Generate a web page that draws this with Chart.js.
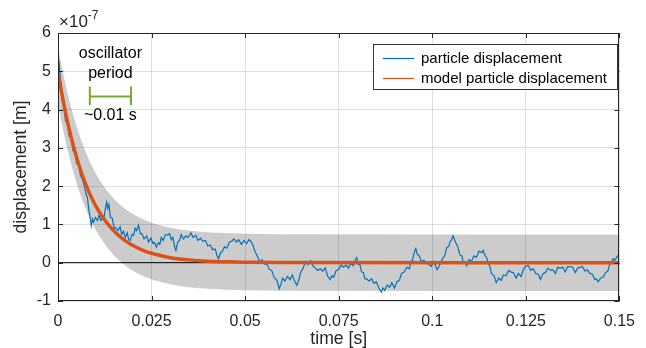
<!DOCTYPE html>
<html><head><meta charset="utf-8">
<script src="https://cdn.jsdelivr.net/npm/chart.js@4.4.1/dist/chart.umd.min.js"></script>
<style>html,body{margin:0;padding:0;background:#fff}</style>
</head><body>
<canvas id="c" width="646" height="348"></canvas>
<script>
// ---- data (displacement in units of 1e-7 m, time in s) ----
const particleTime = [0.0000,0.0003,0.0006,0.0010,0.0015,0.0020,0.0025,0.0030,0.0035,0.0040,0.0045,0.0050,0.0055,0.0060,0.0065,0.0070,0.0075,0.0079,0.0082,0.0085,0.0089,0.0092,0.0095,0.0100,0.0105,0.0110,0.0114,0.0118,0.0122,0.0126,0.0130,0.0133,0.0136,0.0140,0.0145,0.0150,0.0154,0.0160,0.0166,0.0170,0.0175,0.0180,0.0185,0.0189,0.0193,0.0198,0.0202,0.0206,0.0210,0.0215,0.0220,0.0224,0.0230,0.0237,0.0242,0.0248,0.0254,0.0258,0.0263,0.0268,0.0272,0.0276,0.0281,0.0287,0.0293,0.0298,0.0303,0.0307,0.0311,0.0315,0.0320,0.0325,0.0329,0.0335,0.0342,0.0348,0.0355,0.0361,0.0368,0.0374,0.0381,0.0387,0.0394,0.0400,0.0407,0.0413,0.0420,0.0425,0.0429,0.0434,0.0438,0.0445,0.0451,0.0458,0.0464,0.0470,0.0477,0.0483,0.0490,0.0497,0.0504,0.0510,0.0515,0.0520,0.0526,0.0532,0.0539,0.0545,0.0552,0.0558,0.0565,0.0571,0.0578,0.0585,0.0591,0.0596,0.0600,0.0606,0.0613,0.0620,0.0626,0.0632,0.0638,0.0643,0.0648,0.0655,0.0661,0.0668,0.0675,0.0681,0.0688,0.0694,0.0701,0.0707,0.0714,0.0720,0.0727,0.0732,0.0737,0.0743,0.0750,0.0756,0.0763,0.0770,0.0776,0.0782,0.0789,0.0794,0.0798,0.0802,0.0807,0.0811,0.0816,0.0820,0.0825,0.0831,0.0838,0.0844,0.0851,0.0857,0.0864,0.0868,0.0873,0.0880,0.0886,0.0892,0.0899,0.0905,0.0912,0.0918,0.0925,0.0932,0.0939,0.0943,0.0947,0.0952,0.0956,0.0960,0.0965,0.0971,0.0978,0.0985,0.0991,0.0997,0.1004,0.1008,0.1013,0.1019,0.1026,0.1033,0.1039,0.1044,0.1048,0.1052,0.1055,0.1058,0.1061,0.1068,0.1074,0.1079,0.1083,0.1088,0.1092,0.1098,0.1105,0.1111,0.1118,0.1125,0.1132,0.1136,0.1140,0.1145,0.1149,0.1154,0.1158,0.1165,0.1171,0.1178,0.1184,0.1190,0.1197,0.1204,0.1210,0.1217,0.1224,0.1230,0.1237,0.1244,0.1250,0.1257,0.1263,0.1270,0.1276,0.1283,0.1289,0.1296,0.1302,0.1309,0.1316,0.1322,0.1329,0.1335,0.1342,0.1349,0.1355,0.1362,0.1368,0.1375,0.1382,0.1388,0.1395,0.1401,0.1408,0.1414,0.1421,0.1428,0.1434,0.1439,0.1443,0.1450,0.1456,0.1463,0.1469,0.1474,0.1478,0.1483,0.1487,0.1494,0.1500];
const particleDisp = [5.10,5.22,4.85,4.30,4.15,3.70,3.70,3.30,3.28,2.92,2.90,2.58,2.56,2.28,2.18,2.02,1.80,1.68,1.40,1.24,0.97,1.14,1.06,1.18,1.10,1.24,1.10,1.16,1.12,1.38,1.58,1.42,1.52,1.18,1.16,0.90,0.92,0.84,0.94,0.74,0.82,0.66,0.78,0.60,0.58,0.74,0.72,0.90,0.84,0.98,0.76,0.76,0.62,0.70,0.54,0.64,0.50,0.53,0.41,0.52,0.48,0.66,0.58,0.74,0.72,0.76,0.60,0.66,0.44,0.32,0.54,0.58,0.74,0.62,0.70,0.66,0.78,0.66,0.72,0.58,0.64,0.56,0.58,0.44,0.46,0.34,0.36,0.18,0.10,0.26,0.28,0.42,0.38,0.54,0.56,0.62,0.54,0.60,0.48,0.58,0.50,0.60,0.56,0.48,0.30,0.18,0.02,0.08,-0.04,-0.04,-0.18,-0.20,-0.40,-0.46,-0.68,-0.56,-0.40,-0.48,-0.36,-0.44,-0.32,-0.48,-0.59,-0.46,-0.26,-0.14,0.02,-0.05,0.05,-0.08,-0.14,-0.20,-0.16,-0.22,-0.14,-0.34,-0.44,-0.34,-0.38,-0.20,-0.18,-0.06,-0.12,-0.06,-0.14,-0.02,-0.08,0.06,0.13,-0.04,-0.06,-0.24,-0.26,-0.42,-0.42,-0.48,-0.42,-0.54,-0.50,-0.66,-0.77,-0.66,-0.72,-0.58,-0.64,-0.52,-0.66,-0.50,-0.46,-0.28,-0.24,-0.12,-0.16,0.04,0.06,0.28,0.37,0.22,0.18,0.04,0.06,-0.02,-0.04,-0.10,0.04,-0.06,-0.18,-0.08,0.08,0.18,0.40,0.42,0.56,0.60,0.70,0.64,0.56,0.42,0.20,0.18,0.02,0.02,-0.08,0.08,0.04,0.18,0.14,0.30,0.26,0.32,0.20,0.14,0.00,-0.10,-0.28,-0.34,-0.52,-0.40,-0.46,-0.32,-0.34,-0.20,-0.24,-0.26,-0.40,-0.28,-0.36,-0.16,-0.08,-0.08,-0.20,-0.16,-0.28,-0.30,-0.44,-0.28,-0.26,-0.14,-0.20,-0.18,-0.28,-0.12,-0.14,-0.12,-0.24,-0.10,-0.10,-0.12,-0.26,-0.14,-0.12,-0.10,-0.22,-0.18,-0.28,-0.30,-0.44,-0.42,-0.50,-0.40,-0.38,-0.26,-0.22,-0.04,0.00,0.10,0.06,0.16,0.23];
const modelTime = [0,0.001,0.002,0.003,0.004,0.005,0.006,0.007,0.008,0.009,0.010,0.012,0.014,0.016,0.018,0.020,0.023,0.026,0.030,0.035,0.040,0.045,0.050,0.060,0.150];
const modelDisp = [5.00,4.43,3.93,3.48,3.09,2.74,2.43,2.15,1.91,1.69,1.50,1.18,0.93,0.73,0.57,0.45,0.31,0.22,0.13,0.074,0.040,0.022,0.012,0.004,0];
const bandUpper = [5.64,5.125,4.663,4.251,3.882,3.551,3.256,2.991,2.754,2.543,2.353,2.032,1.774,1.568,1.403,1.271,1.121,1.013,0.915,0.840,0.798,0.773,0.759,0.746,0.740];
const bandLower = [4.16,3.645,3.183,2.771,2.402,2.071,1.776,1.511,1.274,1.063,0.873,0.552,0.294,0.088,-0.077,-0.209,-0.359,-0.467,-0.565,-0.640,-0.682,-0.707,-0.721,-0.734,-0.740];
const periodStart = 0.0085, periodEnd = 0.0195, periodLevel = 4.34, periodCapTop = 4.60, periodCapBottom = 4.11;
const zeroLineTime = [0, 0.15];
const zeroLineValue = [0, 0];
const xTicks = [0,0.025,0.05,0.075,0.1,0.125,0.15];
const xTickLabels = ['0','0.025','0.05','0.075','0.1','0.125','0.15'];
const yTicks = [-1,0,1,2,3,4,5,6];
const yTickLabels = ['-1','0','1','2','3','4','5','6'];
const seriesNames = ['particle displacement','model particle displacement'];
const annotationText = ['oscillator','period','~0.01 s'];
const exponentText = ['\u00d710','-7'];

const pts = (xs, ys) => xs.map((x, i) => ({x, y: ys[i]}));
const AX = '#262626';
const FONT = '"Liberation Sans", Arial, Helvetica, sans-serif';

const decor = {
  id: 'decor',
  afterDraw(chart) {
    const {ctx, chartArea: a, scales: {x, y}} = chart;
    ctx.save();
    ctx.strokeStyle = AX; ctx.lineWidth = 1;
    ctx.strokeRect(Math.round(a.left) + 0.5, Math.round(a.top) + 0.5, Math.round(a.right - a.left) - 1, Math.round(a.bottom - a.top) - 1);
    const L = 5;
    ctx.beginPath();
    xTicks.forEach(v => {
      const px = Math.round(x.getPixelForValue(v)) + 0.5;
      ctx.moveTo(px, a.bottom); ctx.lineTo(px, a.bottom - L);
      ctx.moveTo(px, a.top); ctx.lineTo(px, a.top + L);
    });
    yTicks.forEach(v => {
      const py = Math.round(y.getPixelForValue(v)) + 0.5;
      ctx.moveTo(a.left, py); ctx.lineTo(a.left + L, py);
      ctx.moveTo(a.right, py); ctx.lineTo(a.right - L, py);
    });
    ctx.stroke();
    // exponent
    ctx.fillStyle = AX; ctx.textBaseline = 'alphabetic'; ctx.textAlign = 'left';
    ctx.font = '17px ' + FONT;
    ctx.fillText(exponentText[0], a.left + 1, 27);
    const w = ctx.measureText(exponentText[0]).width;
    ctx.font = '12px ' + FONT;
    ctx.fillText(exponentText[1], a.left + 1 + w, 19);
    // annotation text
    ctx.fillStyle = '#000'; ctx.textAlign = 'center'; ctx.textBaseline = 'middle';
    ctx.font = '16px ' + FONT;
    const cx = x.getPixelForValue((periodStart + periodEnd) / 2);
    ctx.fillText(annotationText[0], cx, y.getPixelForValue(5.46));
    ctx.fillText(annotationText[1], cx, y.getPixelForValue(4.93));
    ctx.fillText(annotationText[2], cx, y.getPixelForValue(3.85));
    // legend
    const lx = 373.5, ly = 44.5, lw = 244, lh = 45;
    ctx.fillStyle = '#fff'; ctx.fillRect(lx, ly, lw, lh);
    ctx.strokeStyle = '#333'; ctx.lineWidth = 1; ctx.strokeRect(lx, ly, lw, lh);
    const cols = ['#0072BD', '#D95319'];
    const rows = [58, 78];
    ctx.font = '15px ' + FONT; ctx.textAlign = 'left'; ctx.textBaseline = 'middle';
    seriesNames.forEach((n, i) => {
      ctx.strokeStyle = cols[i]; ctx.lineWidth = 1.2;
      ctx.beginPath(); ctx.moveTo(383, rows[i] + 0.5); ctx.lineTo(414, rows[i] + 0.5); ctx.stroke();
      ctx.fillStyle = '#000'; ctx.fillText(n, 421, rows[i] + 1);
    });
    ctx.restore();
  }
};

new Chart(document.getElementById('c'), {
  type: 'line',
  data: {
    datasets: [
      {label: 'band upper', data: pts(modelTime, bandUpper), borderWidth: 0, pointRadius: 0, fill: '+1', backgroundColor: 'rgba(0,0,0,0.2)', cubicInterpolationMode: 'monotone', order: 6},
      {label: 'band lower', data: pts(modelTime, bandLower), borderWidth: 0, pointRadius: 0, fill: false, cubicInterpolationMode: 'monotone', order: 5},
      {label: 'zero', data: pts(zeroLineTime, zeroLineValue), borderColor: '#000', borderWidth: 1, pointRadius: 0, fill: false, order: 4},
      {label: seriesNames[0], data: pts(particleTime, particleDisp), borderColor: '#0072BD', borderWidth: 1.2, pointRadius: 0, fill: false, tension: 0, order: 2},
      {label: seriesNames[1], data: pts(modelTime, modelDisp), borderColor: '#D95319', borderWidth: 3.5, pointRadius: 0, fill: false, cubicInterpolationMode: 'monotone', order: 1},
      {label: 'period', data: [{x: periodStart, y: periodCapTop}, {x: periodStart, y: periodCapBottom}, {x: periodStart, y: null}, {x: periodStart, y: periodLevel}, {x: periodEnd, y: periodLevel}, {x: periodEnd, y: null}, {x: periodEnd, y: periodCapTop}, {x: periodEnd, y: periodCapBottom}], borderColor: '#77AC30', borderWidth: 2, pointRadius: 0, fill: false, spanGaps: false, order: 0}
    ]
  },
  options: {
    responsive: false, animation: false, devicePixelRatio: 1,
    layout: {padding: {top: 33, right: 18, left: 0, bottom: 0}},
    plugins: {legend: {display: false}, tooltip: {enabled: false}},
    scales: {
      x: {
        type: 'linear', min: 0, max: 0.15,
        afterBuildTicks: s => { s.ticks = xTicks.map(v => ({value: v})); },
        afterFit: s => { s.height = 47; },
        ticks: {callback: (v, i) => xTickLabels[i], color: AX, font: {family: FONT, size: 16}, padding: 11, maxRotation: 0, autoSkip: false},
        grid: {color: 'rgba(38,38,38,0.15)', drawTicks: false, lineWidth: 1},
        border: {display: false},
        title: {display: true, text: 'time [s]', color: AX, font: {family: FONT, size: 17.6, lineHeight: 1}, padding: {top: 0, bottom: 0}}
      },
      y: {
        type: 'linear', min: -1, max: 6,
        afterBuildTicks: s => { s.ticks = yTicks.map(v => ({value: v})); },
        afterFit: s => { s.width = 58; },
        ticks: {callback: (v, i) => yTickLabels[i], color: AX, font: {family: FONT, size: 16}, padding: 7, autoSkip: false},
        grid: {color: 'rgba(38,38,38,0.15)', drawTicks: false, lineWidth: 1},
        border: {display: false},
        title: {display: true, text: 'displacement [m]', color: AX, font: {family: FONT, size: 17.6, lineHeight: 1}, padding: {top: 12, bottom: 0}}
      }
    }
  },
  plugins: [decor]
});
</script>
</body></html>
